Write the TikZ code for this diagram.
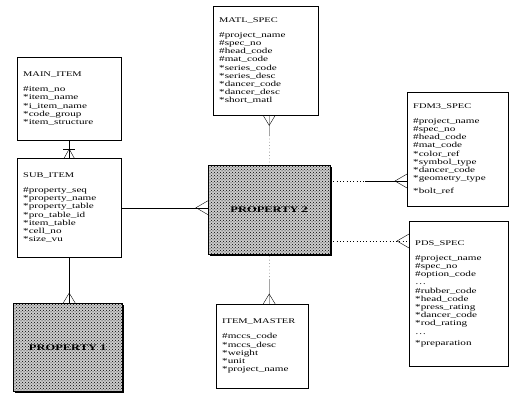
\documentclass[tikz,border=0pt]{standalone}
\usepackage{fontspec}
\setmainfont{Liberation Serif}
\newfontfamily\scanfont[FakeStretch=1.45]{Liberation Serif}
\usepackage{tikz}
\usetikzlibrary{
    calc,
    patterns,
    shadows,
    positioning
}
\tikzstyle{entity} = [
    rectangle, draw,
    thin,
    anchor=north west,
    align=left,
    inner xsep=6pt,
    inner ysep=0pt,
    font=\scanfont\fontsize{7.7}{8.2}\selectfont
]
\tikzstyle{propbox} = [
    rectangle, draw,
    thin,
    anchor=north west,
    text centered,
    fill=gray!40,
    postaction={pattern=crosshatch dots},
    drop shadow={shadow xshift=2pt, shadow yshift=-2pt, fill=black, opacity=1},
    font=\scanfont\bfseries\fontsize{8.6}{10}\selectfont
]
\tikzstyle{rel} = [
    thin
]
\tikzstyle{optrel} = [
    thin,
    dash pattern=on 0.8pt off 2.5pt
]
\newcommand{\enthead}[1]{{\fontsize{7.2}{8}\selectfont #1}\\[7pt]}

\begin{document}
\begin{tikzpicture}[x=1pt, y=-1pt]
\useasboundingbox (0,0) rectangle (509,396);

\node (mainitem) [entity, minimum width=104pt, minimum height=83pt, text width=92pt] at (17,57)
    {\enthead{MAIN\_ITEM}\#item\_no\\{}*item\_name\\{}*i\_item\_name\\{}*code\_group\\{}*item\_structure};
\node (subitem) [entity, minimum width=104pt, minimum height=99pt, text width=92pt] at (17,158)
    {\enthead{SUB\_ITEM}\#property\_seq\\{}*property\_name\\{}*property\_table\\{}*pro\_table\_id\\{}*item\_table\\{}*cell\_no\\{}*size\_vu};
\node (matlspec) [entity, minimum width=105pt, minimum height=109pt, text width=93pt] at (213,6)
    {\enthead{MATL\_SPEC}\#project\_name\\\#spec\_no\\\#head\_code\\\#mat\_code\\{}*series\_code\\{}*series\_desc\\{}*dancer\_code\\{}*dancer\_desc\\{}*short\_matl};
\node (itemmaster) [entity, minimum width=92pt, minimum height=84pt, text width=80pt] at (216,304)
    {\enthead{ITEM\_MASTER}\#mccs\_code\\{}*mccs\_desc\\{}*weight\\{}*unit\\{}*project\_name};
\node (fdmspec) [entity, minimum width=101pt, minimum height=114pt, text width=89pt] at (407,92)
    {\enthead{FDM3\_SPEC}\#project\_name\\\#spec\_no\\\#head\_code\\\#mat\_code\\{}*color\_ref\\{}*symbol\_type\\{}*dancer\_code\\{}*geometry\_type\\[5pt]*bolt\_ref};
\node (pdsspec) [entity, minimum width=99pt, minimum height=145pt, text width=87pt] at (409,221)
    {\enthead{PDS\_SPEC}\#project\_name\\\#spec\_no\\\#option\_code\\\dots\\\#rubber\_code\\{}*head\_code\\{}*press\_rating\\{}*dancer\_code\\{}*rod\_rating\\\dots\\[3pt]*preparation};

\node (propone) [propbox, minimum width=109pt, minimum height=88pt] at (13,303) {PROPERTY 1};
\node (proptwo) [propbox, minimum width=122pt, minimum height=89pt] at (208,165) {PROPERTY 2};

\coordinate (fdmlink) at (0,181);
\coordinate (pdslink) at (0,241);

% MAIN_ITEM - SUB_ITEM
\draw [rel] (mainitem.south) -- (subitem.north);
\draw [rel] (subitem.north) +(-6,-9) -- +(6,-9);
\draw [rel] (subitem.north) +(-5,0) -- +(0,-9) -- +(5,0);

% SUB_ITEM - PROPERTY 1
\draw [rel] (subitem.south) -- (subitem.south |- propone.north);
\draw [rel] (subitem.south |- propone.north) +(-6,0) -- +(0,-10) -- +(6,0);

% SUB_ITEM - PROPERTY 2
\draw [rel] (subitem.east) -- (subitem.east -| proptwo.west);
\draw [rel] (subitem.east -| proptwo.west) +(0,-7) -- +(-12,0) -- +(0,7);

% MATL_SPEC - PROPERTY 2
\draw [rel] (proptwo.north |- matlspec.south) -- ($(proptwo.north |- matlspec.south)!0.4!(proptwo.north)$);
\draw [optrel] ($(proptwo.north |- matlspec.south)!0.4!(proptwo.north)$) -- (proptwo.north);
\draw [rel] (proptwo.north |- matlspec.south) +(-6,0) -- +(0,10) -- +(6,0);

% PROPERTY 2 - ITEM_MASTER
\draw [optrel] ([yshift=-2pt]proptwo.south) -- ($(proptwo.south)!0.5!(proptwo.south |- itemmaster.north)$);
\draw [rel] ($(proptwo.south)!0.5!(proptwo.south |- itemmaster.north)$) -- (proptwo.south |- itemmaster.north);
\draw [rel] (proptwo.south |- itemmaster.north) +(-6,0) -- +(0,-10) -- +(6,0);

% PROPERTY 2 - FDM3_SPEC
\draw [optrel] ([xshift=3pt]proptwo.east |- fdmlink) -- ($(proptwo.east |- fdmlink)!0.45!(fdmspec.west |- fdmlink)$);
\draw [rel] ($(proptwo.east |- fdmlink)!0.45!(fdmspec.west |- fdmlink)$) -- (fdmspec.west |- fdmlink);
\draw [rel] (fdmspec.west |- fdmlink) +(0,-7) -- +(-12,0) -- +(0,7);

% PROPERTY 2 - PDS_SPEC
\draw [optrel] ([xshift=3pt]proptwo.east |- pdslink) -- (pdsspec.west |- pdslink);
\draw [rel] (pdsspec.west |- pdslink) +(0,-7) -- +(-12,0) -- +(0,7);

\end{tikzpicture}
\end{document}
